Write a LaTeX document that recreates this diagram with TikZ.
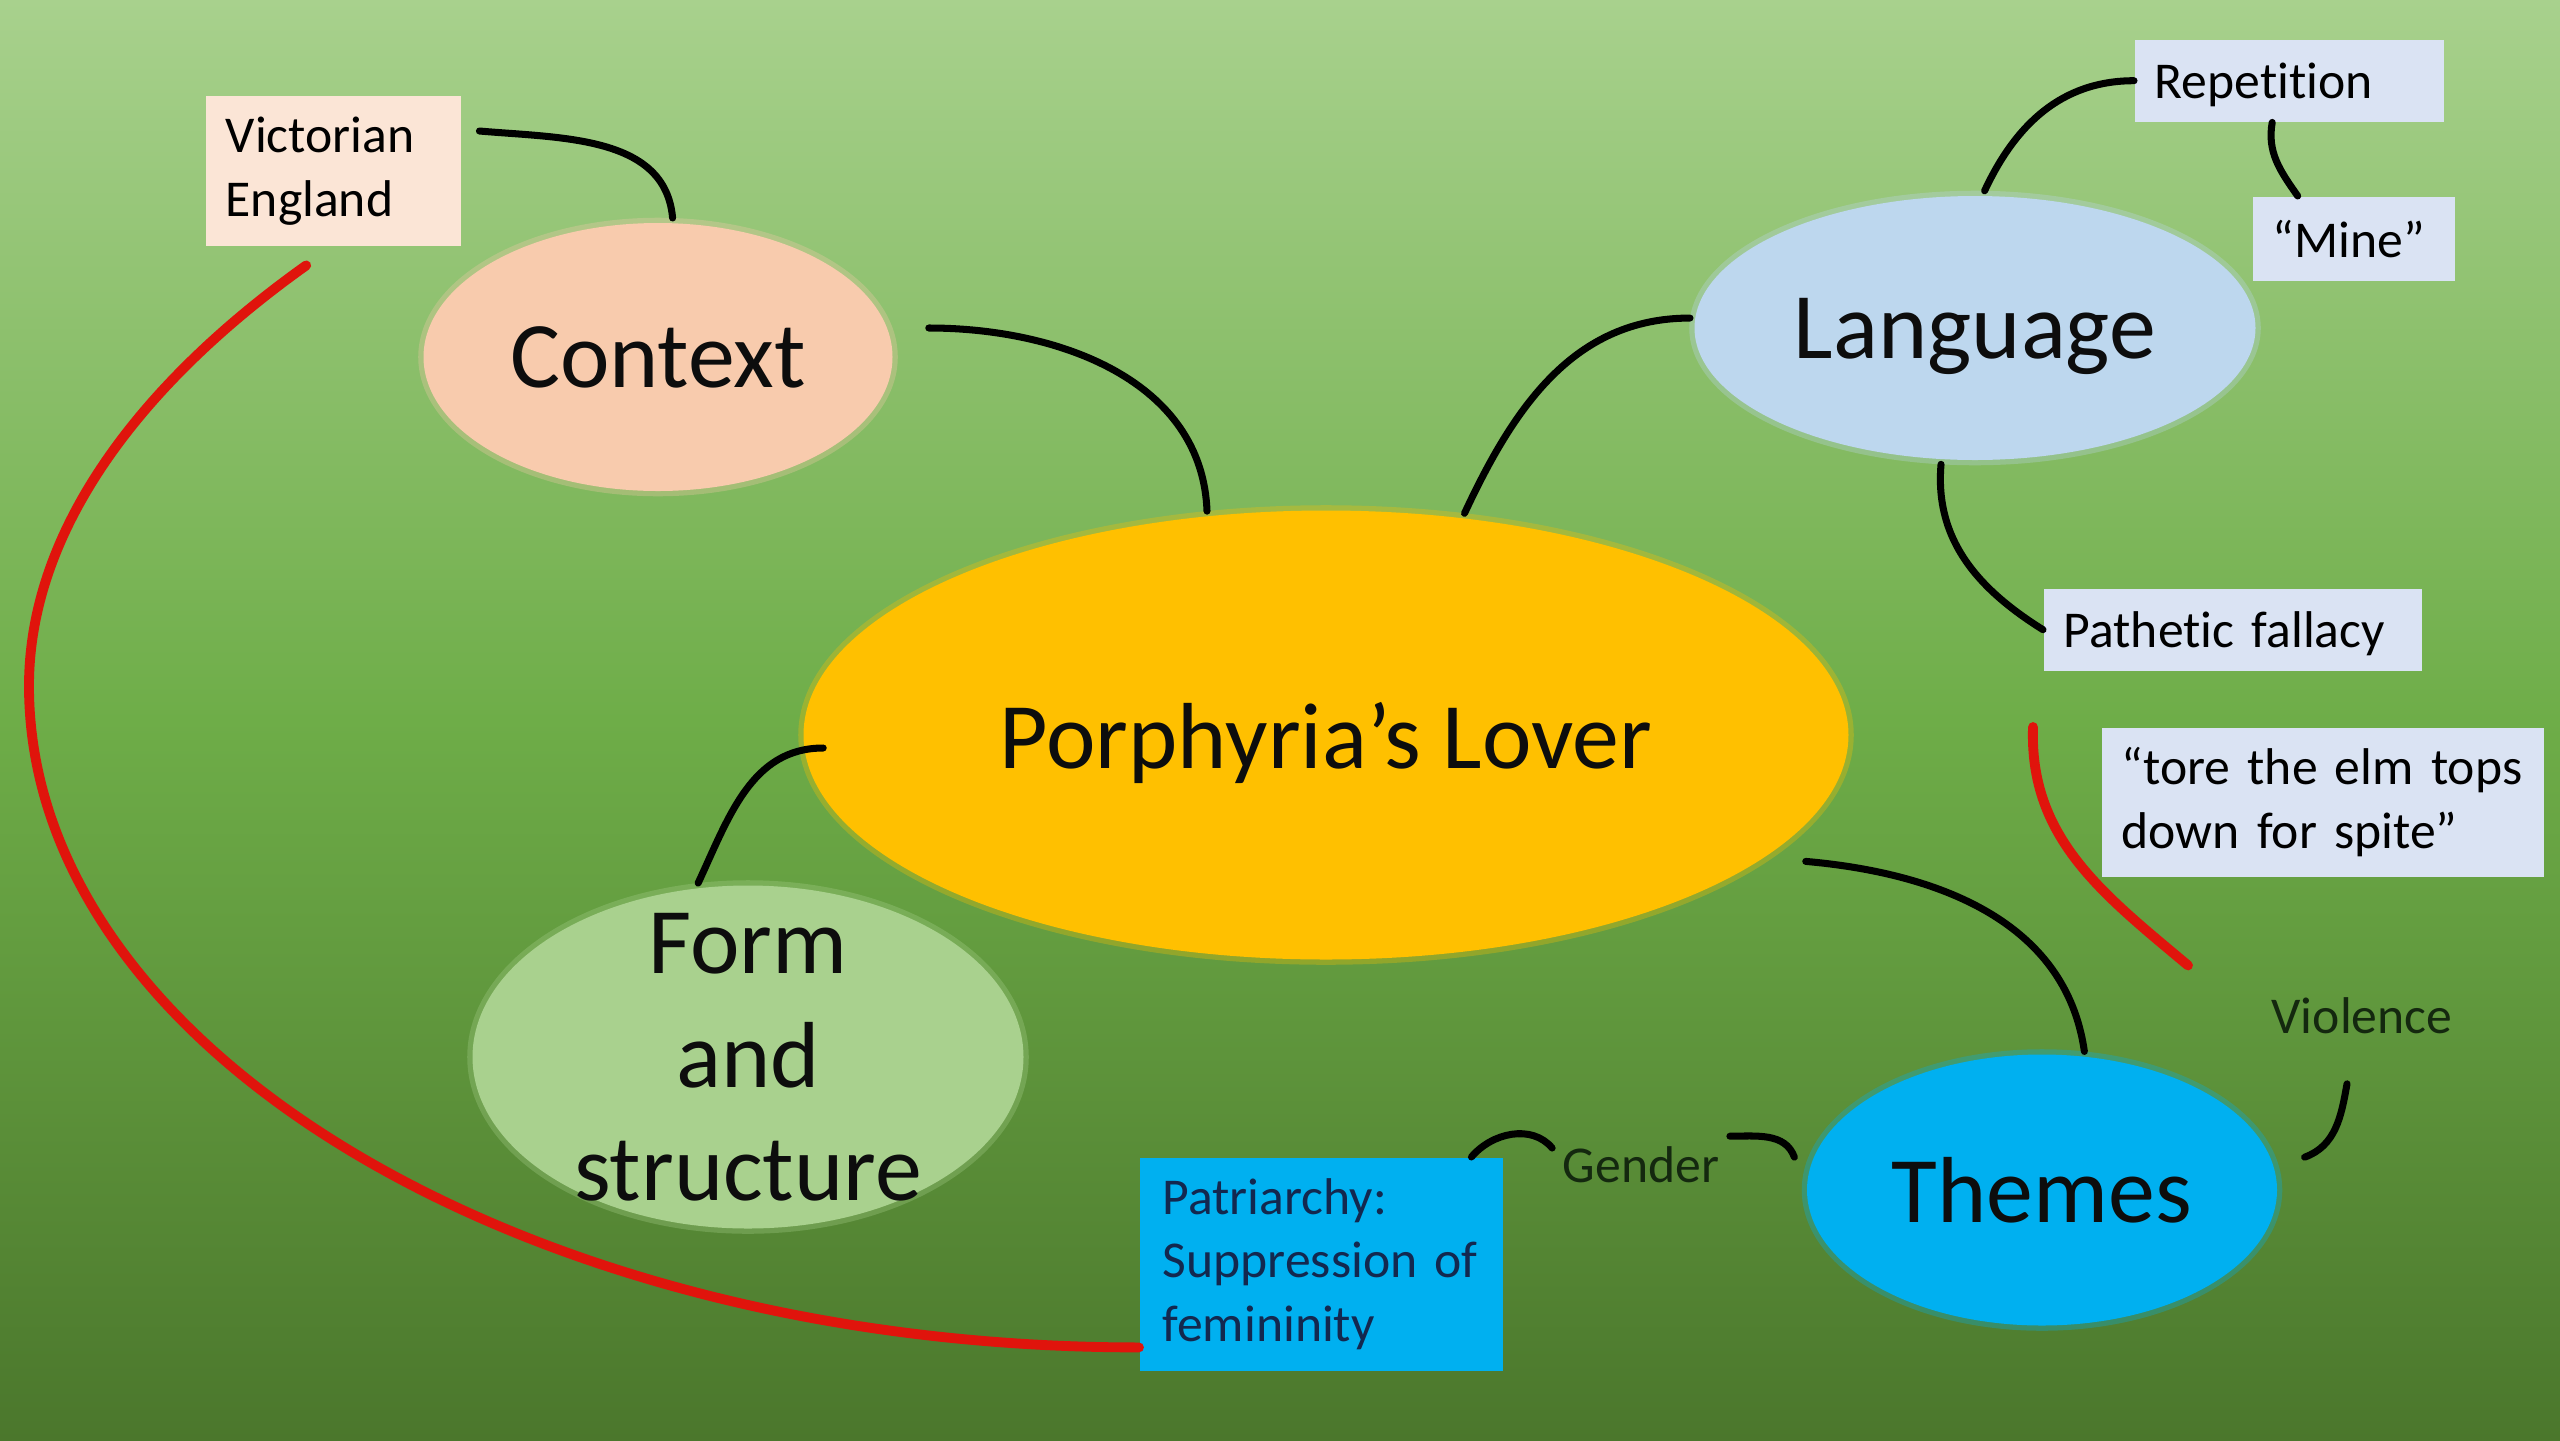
\documentclass[tikz,border=0pt]{standalone}
\usepackage{fontspec}
\setmainfont{Carlito}[Ligatures=NoCommon]
\usetikzlibrary{shapes.geometric}
\definecolor{bgtop}{HTML}{A8D18D}
\definecolor{bgmid}{HTML}{6EAD48}
\definecolor{bgbot}{HTML}{4B772C}
\definecolor{gold}{HTML}{FFC000}
\definecolor{peach}{HTML}{F8CBAD}
\definecolor{peachbox}{HTML}{FBE5D6}
\definecolor{skyblue}{HTML}{BDD7EE}
\definecolor{paleblue}{HTML}{DAE3F3}
\definecolor{leaf}{HTML}{A9D18E}
\definecolor{cyanish}{HTML}{00B0F0}
\definecolor{navy}{HTML}{13284F}
\definecolor{redline}{HTML}{E0140C}
\definecolor{darkleaf}{HTML}{14280F}

\begin{document}
\begin{tikzpicture}[
  bub/.style={ellipse, inner sep=0pt, text depth=0pt, text=black!95, font=\fontsize{26.7}{32.4}\selectfont},
  soft/.style={fill=#1, draw=#1, draw opacity=0.3, line width=3pt},
  tag/.style={rectangle, anchor=north west, inner xsep=2mm, inner ysep=0pt, align=left, font=\fontsize{14.7}{18.2}\selectfont},
  lbl/.style={inner sep=1mm, text=darkleaf, font=\fontsize{14.7}{18.2}\selectfont},
  link/.style={line width=2pt, line cap=round},
  redlink/.style={line width=2.8pt, draw=redline, line cap=round}]
\useasboundingbox (0,0) rectangle (25.6,-14.4);
\shade[top color=bgtop, bottom color=bgbot, middle color=bgmid] (0,0) rectangle (25.6,-14.4);

% topics
\node[bub, soft=gold, minimum width=10.45cm, minimum height=4.49cm] (main) at (13.26,-7.35) {Porphyria’s Lover};
\node[bub, soft=peach, minimum width=4.69cm, minimum height=2.68cm] (ctx) at (6.58,-3.57) {Context};
\node[bub, soft=skyblue, minimum width=5.61cm, minimum height=2.64cm] (lang) at (19.75,-3.28) {Language};
\node[bub, soft=leaf, minimum width=5.51cm, minimum height=3.43cm] (form) at (7.48,-10.57) {};
\node[bub, align=center] (formtxt) at (form) {Form\\and\\structure};
\node[bub, soft=cyanish, minimum width=4.70cm, minimum height=2.71cm] (themes) at (20.42,-11.90) {Themes};

% notes
\node[tag, fill=peachbox, text width=2.15cm, minimum height=1.5cm] (vic) at (2.05,-0.95) {Victorian\\England};
\node[tag, fill=paleblue, text depth=0pt, text width=2.69cm, minimum height=0.82cm] (rep) at (21.34,-0.39) {Repetition};
\node[tag, fill=paleblue, text width=1.62cm, minimum height=0.84cm] (mine) at (22.52,-1.96) {“Mine”};
\node[tag, fill=paleblue, text depth=0pt, text width=3.38cm, minimum height=0.82cm] (pf) at (20.43,-5.88) {Pathetic fallacy};
\node[tag, fill=paleblue, text width=4.02cm, minimum height=1.49cm] (tore) at (21.01,-7.27) {“tore the elm tops\\down for spite”};
\node[tag, fill=cyanish, text=navy, inner xsep=2.3mm, text width=3.17cm, minimum height=2.13cm] (patr) at (11.39,-11.57) {Patriarchy:\\Suppression of\\femininity};
\node[lbl] (gender) at (16.41,-11.65) {Gender};
\node[lbl] (viol) at (23.62,-10.16) {Violence};

% branches
\draw[link] ([shift={(0.18,-0.36)}]vic.north east) to[out=-5,in=95] (ctx.84);
\draw[link] ([shift={(0.31,0.29)}]ctx.east) to[out=0,in=92] (main.118);
\draw[link] (main.58) to[out=65,in=180] (lang.178);
\draw[link] (lang.86) to[out=65,in=180] (rep.west);
\draw[link] ([xshift=-1.7mm]rep.south) to[out=-100,in=125] ([xshift=-5.6mm]mine.north);
\draw[link] (lang.-104) to[out=-95,in=148] (pf.west);
\draw[link] ([xshift=3.9mm]main.-16) to[out=-5,in=98] (themes.73);
\draw[link] (form.106) to[out=65,in=180] ([shift={(0.25,-0.13)}]main.west);
\draw[link] ([xshift=-1.4mm]themes.172) to[out=110,in=0] (gender.north east);
\draw[link] ([yshift=1.7mm]gender.west) to[out=130,in=50] ([xshift=-3.2mm]patr.north east);
\draw[link] ([xshift=2.9mm]themes.8) to[out=20,in=-100] ([shift={(-0.15,-0.39)}]viol.south);

% red links
\coordinate (redL) at (0.29,-6.86);
\draw[redlink] ([shift={(-0.27,-0.19)}]vic.south) .. controls +(-1.67,-1.19) and +(0,1.55) .. (redL) .. controls +(0,-3.65) and +(-6.11,0) .. ([yshift=2.4mm]patr.south west);
\draw[redlink] ([xshift=-6.8mm]tore.north west) to[out=-92,in=140] ([shift={(0.87,-0.88)}]tore.south west);
\end{tikzpicture}
\end{document}
